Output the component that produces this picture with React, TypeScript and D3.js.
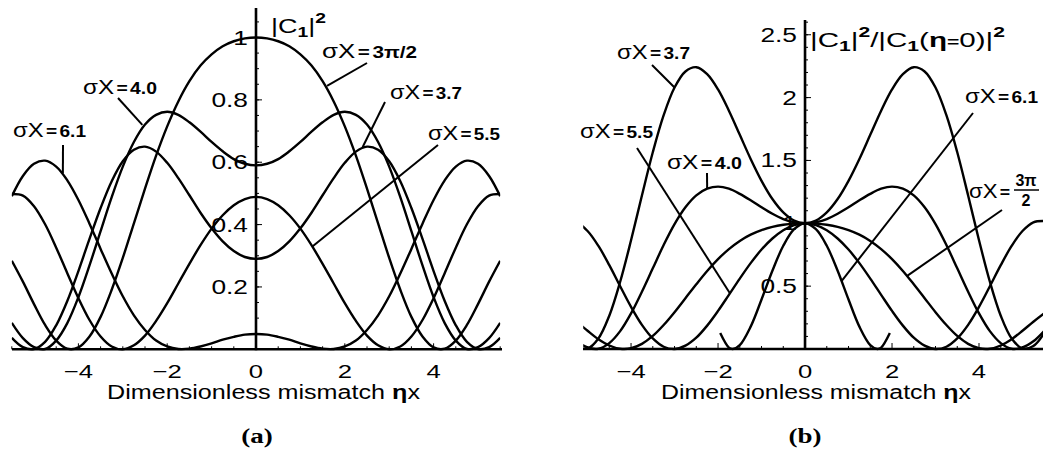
import React from 'react';
import * as d3 from 'd3';

// dimensionless mismatch ηX, sampled every 0.25
const ETA = [-5.5, -5.25, -5, -4.75, -4.5, -4.25, -4, -3.75, -3.5, -3.25, -3, -2.75, -2.5, -2.25, -2, -1.75, -1.5, -1.25, -1, -0.75, -0.5, -0.25, 0,
  0.25, 0.5, 0.75, 1, 1.25, 1.5, 1.75, 2, 2.25, 2.5, 2.75, 3, 3.25, 3.5, 3.75, 4, 4.25, 4.5, 4.75, 5, 5.25, 5.5];

// (a) |C1|^2, one list per σX
const A_3PI2 = [0.284, 0.217, 0.145, 0.078, 0.028, 0.002, 0.006, 0.041, 0.104, 0.191, 0.293, 0.404, 0.515, 0.621, 0.715, 0.795, 0.860, 0.910, 0.946, 0.972, 0.988, 0.997, 1,
  0.997, 0.988, 0.972, 0.946, 0.910, 0.860, 0.795, 0.715, 0.621, 0.515, 0.404, 0.293, 0.191, 0.104, 0.041, 0.006, 0.002, 0.028, 0.078, 0.145, 0.217, 0.284];
const A_37 = [0.037, 0.007, 0.001, 0.024, 0.077, 0.155, 0.251, 0.354, 0.453, 0.539, 0.603, 0.640, 0.650, 0.634, 0.598, 0.549, 0.494, 0.438, 0.388, 0.346, 0.315, 0.296, 0.290,
  0.296, 0.315, 0.346, 0.388, 0.438, 0.494, 0.549, 0.598, 0.634, 0.650, 0.640, 0.603, 0.539, 0.453, 0.354, 0.251, 0.155, 0.077, 0.024, 0.001, 0.007, 0.037];
const A_40 = [0.085, 0.036, 0.007, 0.001, 0.028, 0.084, 0.167, 0.269, 0.379, 0.488, 0.586, 0.665, 0.721, 0.752, 0.762, 0.752, 0.728, 0.698, 0.665, 0.635, 0.610, 0.595, 0.590,
  0.595, 0.610, 0.635, 0.665, 0.698, 0.728, 0.752, 0.762, 0.752, 0.721, 0.665, 0.586, 0.488, 0.379, 0.269, 0.167, 0.084, 0.028, 0.001, 0.007, 0.036, 0.085];
const A_55 = [0.498, 0.493, 0.459, 0.401, 0.326, 0.244, 0.164, 0.094, 0.041, 0.009, 0.000, 0.013, 0.044, 0.091, 0.148, 0.211, 0.274, 0.334, 0.387, 0.430, 0.462, 0.482, 0.489,
  0.482, 0.462, 0.430, 0.387, 0.334, 0.274, 0.211, 0.148, 0.091, 0.044, 0.013, 0.000, 0.009, 0.041, 0.094, 0.164, 0.244, 0.326, 0.401, 0.459, 0.493, 0.498];
const A_61 = [0.491, 0.556, 0.595, 0.605, 0.586, 0.542, 0.479, 0.403, 0.322, 0.243, 0.170, 0.109, 0.062, 0.028, 0.009, 0.001, 0.002, 0.009, 0.019, 0.031, 0.040, 0.047, 0.049,
  0.047, 0.040, 0.031, 0.019, 0.009, 0.002, 0.001, 0.009, 0.028, 0.062, 0.109, 0.170, 0.243, 0.322, 0.403, 0.479, 0.542, 0.586, 0.605, 0.595, 0.556, 0.491];

// (b) |C1|^2 / |C1(η=0)|^2  (σX = 3π/2 is the same list as in (a))
const B_37 = [0.128, 0.024, 0.004, 0.084, 0.265, 0.535, 0.865, 1.221, 1.565, 1.860, 2.080, 2.208, 2.242, 2.187, 2.065, 1.896, 1.704, 1.512, 1.338, 1.193, 1.087, 1.022, 1,
  1.022, 1.087, 1.193, 1.338, 1.512, 1.704, 1.896, 2.065, 2.187, 2.242, 2.208, 2.080, 1.860, 1.565, 1.221, 0.865, 0.535, 0.265, 0.084, 0.004, 0.024, 0.128];
const B_40 = [0.144, 0.061, 0.012, 0.002, 0.047, 0.142, 0.283, 0.456, 0.642, 0.827, 0.993, 1.127, 1.222, 1.275, 1.292, 1.275, 1.234, 1.183, 1.127, 1.076, 1.034, 1.008, 1,
  1.008, 1.034, 1.076, 1.127, 1.183, 1.234, 1.275, 1.292, 1.275, 1.222, 1.127, 0.993, 0.827, 0.642, 0.456, 0.283, 0.142, 0.047, 0.002, 0.012, 0.061, 0.144];
const B_55 = [1.018, 1.008, 0.939, 0.820, 0.667, 0.499, 0.335, 0.192, 0.084, 0.018, 0.000, 0.027, 0.090, 0.186, 0.303, 0.431, 0.560, 0.683, 0.791, 0.879, 0.945, 0.986, 1,
  0.986, 0.945, 0.879, 0.791, 0.683, 0.560, 0.431, 0.303, 0.186, 0.090, 0.027, 0.000, 0.018, 0.084, 0.192, 0.335, 0.499, 0.667, 0.820, 0.939, 1.008, 1.018];
const ETA_61B = [-1.95, -1.75, -1.66, -1.5, -1.25, -1, -0.75, -0.5, -0.25, 0, 0.25, 0.5, 0.75, 1, 1.25, 1.5, 1.66, 1.75, 1.95];
const B_61 = [0.127, 0.011, 0, 0.031, 0.178, 0.394, 0.623, 0.821, 0.953, 1, 0.953, 0.821, 0.623, 0.394, 0.178, 0.031, 0, 0.011, 0.127];

const X_TICKS = [-4, -2, 0, 2, 4];
const A_Y_TICKS = [0.2, 0.4, 0.6, 0.8, 1];
const B_Y_TICKS = [0.5, 1, 1.5, 2, 2.5];

const SANS = "'Liberation Sans', Arial, Helvetica, sans-serif";
const SERIF = "'Liberation Serif', 'Times New Roman', serif";
const STRETCH = 1.35; // the figure is drawn wider than tall

const zip = (xs: number[], ys: number[]) => xs.map((x, i) => [x, ys[i]] as [number, number]);

const Stretched = ({ x, y, anchor = 'start', size = 20, children, family = SANS, weight = 'normal' }: any) => (
  <text transform={`translate(${x},${y}) scale(${STRETCH},1)`} textAnchor={anchor} fontSize={size}
    fontFamily={family} fontWeight={weight}>{children}</text>
);

const SigmaLabel = ({ x, y, w, val }: any) => (
  <text x={x} y={y} textLength={w} lengthAdjust="spacingAndGlyphs" fontFamily={SANS}>
    <tspan fontSize={20}>σX</tspan>
    <tspan fontSize={16} fontWeight="bold" dx={2}>=</tspan>
    <tspan fontSize={16} fontWeight="bold" dx={2}>{val}</tspan>
  </text>
);

const fmt = (t: number) => (t < 0 ? `\u2212${-t}` : `${t}`);

const Panel = ({ x, y, id, series, yTicks, yMinor, yLabelX, axisTop, xAxisEnds, clipX }: any) => {
  const y0 = y(0);
  const x0 = x(0);
  const [lo, hi] = x.domain();
  const line = d3.line<[number, number]>()
    .x(d => x(d[0]))
    .y(d => y(d[1]))
    .curve(d3.curveCatmullRom.alpha(0.5));
  return (
    <g>
      <defs>
        <clipPath id={id}>
          <rect x={clipX[0]} y={0} width={clipX[1] - clipX[0]} height={y0 + 2} />
        </clipPath>
      </defs>
      <g clipPath={`url(#${id})`} fill="none" stroke="#000" strokeWidth={2.4} strokeLinejoin="round">
        {series.map((s: [number, number][], i: number) => <path key={i} d={line(s) || ''} />)}
      </g>
      {/* x axis */}
      <line x1={xAxisEnds[0]} x2={xAxisEnds[1]} y1={y0} y2={y0} stroke="#000" strokeWidth={2.6} />
      {d3.range(-5.5, 5.51, 0.5).filter(t => t >= lo && t <= hi).map(t => (
        <line key={`xm${t}`} x1={x(t)} x2={x(t)} y1={y0} y2={y0 - (t % 2 === 0 ? 6 : 3)} stroke="#000" strokeWidth={1} />
      ))}
      {X_TICKS.map(t => (
        <Stretched key={`xl${t}`} x={x(t)} y={377.5} anchor="middle" size={19}>{fmt(t)}</Stretched>
      ))}
      {/* y axis */}
      <line x1={x0} x2={x0} y1={y0 + 1} y2={axisTop} stroke="#000" strokeWidth={2.6} />
      {yMinor.map((t: number) => (
        <line key={`ym${t}`} x1={x0} x2={x0 + 3} y1={y(t)} y2={y(t)} stroke="#000" strokeWidth={1} />
      ))}
      {yTicks.map((t: number) => (
        <g key={`yl${t}`}>
          <line x1={x0} x2={x0 + 6} y1={y(t)} y2={y(t)} stroke="#000" strokeWidth={1} />
          <Stretched x={yLabelX} y={y(t) + 7} anchor="end" size={19.5}>{t}</Stretched>
        </g>
      ))}
    </g>
  );
};

const Pointer = ({ x1, y1, x2, y2 }: any) => (
  <line x1={x1} y1={y1} x2={x2} y2={y2} stroke="#000" strokeWidth={2} />
);

export default function App() {
  const xa = d3.scaleLinear().domain([-5.5, 5.5]).range([11.8, 500.2]);
  const ya = d3.scaleLinear().domain([0, 1]).range([349.3, 37.5]);
  const xb = d3.scaleLinear().domain([-5.1, 5.4]).range([583.2, 1039.9]);
  const yb = d3.scaleLinear().domain([0, 2.5]).range([349, 34.75]);

  const seriesA = [A_3PI2, A_37, A_40, A_55, A_61].map(v => zip(ETA, v));
  const seriesB = [zip(ETA, A_3PI2), zip(ETA, B_37), zip(ETA, B_40), zip(ETA, B_55), zip(ETA_61B, B_61)];

  return (
    <svg width={1043} height={449} style={{ position: 'absolute', left: 0, top: 0, background: '#fff' }}>
      <Panel x={xa} y={ya} id="clipA" series={seriesA} yTicks={A_Y_TICKS} yMinor={d3.range(0.05, 1.06, 0.05)}
        yLabelX={248} axisTop={8} xAxisEnds={[12, 502]} clipX={[11.8, 500.2]} />
      <Panel x={xb} y={yb} id="clipB" series={seriesB} yTicks={B_Y_TICKS} yMinor={d3.range(0.1, 2.61, 0.1)}
        yLabelX={797} axisTop={20} xAxisEnds={[583, 1043]} clipX={[583.2, 1043]} />

      {/* panel (a) annotations */}
      <text x={271} y={33} textLength={55} lengthAdjust="spacingAndGlyphs" fontFamily={SANS} fontSize={21}>
        |C<tspan fontSize={15} fontWeight="bold" dy={4}>1</tspan><tspan dy={-4}>|</tspan>
        <tspan fontSize={15} fontWeight="bold" dy={-10}>2</tspan>
      </text>
      <SigmaLabel x={322} y={58} w={95} val="3π/2" />
      <Pointer x1={367} y1={63} x2={xa(1.6)} y2={ya(0.845)} />
      <SigmaLabel x={390} y={99} w={72} val="3.7" />
      <Pointer x1={385} y1={102} x2={xa(2.4)} y2={ya(0.648)} />
      <SigmaLabel x={428} y={140} w={72} val="5.5" />
      <Pointer x1={438} y1={145} x2={xa(1.27)} y2={ya(0.33)} />
      <SigmaLabel x={83} y={94} w={74} val="4.0" />
      <Pointer x1={118} y1={98} x2={xa(-2.56)} y2={ya(0.72)} />
      <SigmaLabel x={13} y={137} w={73} val="6.1" />
      <Pointer x1={63} y1={145} x2={xa(-4.35)} y2={ya(0.565)} />

      {/* panel (b) annotations */}
      <text x={810} y={47} textLength={195} lengthAdjust="spacingAndGlyphs" fontFamily={SANS} fontSize={21}>
        |C<tspan fontSize={15} fontWeight="bold" dy={4}>1</tspan><tspan dy={-4}>|</tspan>
        <tspan fontSize={15} fontWeight="bold" dy={-10}>2</tspan><tspan dy={10}>/|C</tspan>
        <tspan fontSize={15} fontWeight="bold" dy={4}>1</tspan><tspan dy={-4}>(</tspan>
        <tspan fontWeight="bold">η</tspan><tspan fontSize={15} fontWeight="bold">=</tspan><tspan>0)|</tspan>
        <tspan fontSize={15} fontWeight="bold" dy={-10}>2</tspan>
      </text>
      <SigmaLabel x={617} y={59} w={73} val="3.7" />
      <Pointer x1={652} y1={65} x2={xb(-3.0)} y2={yb(2.08)} />
      <SigmaLabel x={580} y={138} w={73} val="5.5" />
      <Pointer x1={637} y1={148} x2={xb(-1.72)} y2={yb(0.44)} />
      <SigmaLabel x={667} y={169} w={75} val="4.0" />
      <Pointer x1={707} y1={173} x2={xb(-2.25)} y2={yb(1.275)} />
      <SigmaLabel x={965} y={103} w={73} val="6.1" />
      <Pointer x1={973} y1={113} x2={xb(0.84)} y2={yb(0.54)} />
      <text x={969} y={198} textLength={41} lengthAdjust="spacingAndGlyphs" fontFamily={SANS}>
        <tspan fontSize={20}>σX</tspan><tspan fontSize={16} fontWeight="bold" dx={2}>=</tspan>
      </text>
      <text x={1026} y={186} textAnchor="middle" fontFamily={SANS} fontSize={16} fontWeight="bold">3π</text>
      <line x1={1014} x2={1039} y1={190} y2={190} stroke="#000" strokeWidth={1.5} />
      <text x={1026} y={206} textAnchor="middle" fontFamily={SANS} fontSize={16} fontWeight="bold">2</text>
      <Pointer x1={1002} y1={210} x2={xb(2.34)} y2={yb(0.58)} />

      {/* axis titles and panel letters */}
      {[{ x: 107, w: 313 }, { x: 661, w: 310 }].map((t, i) => (
        <text key={i} x={t.x} y={399} textLength={t.w} lengthAdjust="spacingAndGlyphs" fontFamily={SANS} fontSize={20}>
          Dimensionless mismatch <tspan fontWeight="bold">η</tspan>x
        </text>
      ))}
      <Stretched x={257} y={443} anchor="middle" size={20} family={SERIF} weight="bold">(a)</Stretched>
      <Stretched x={805} y={443} anchor="middle" size={20} family={SERIF} weight="bold">(b)</Stretched>
    </svg>
  );
}
